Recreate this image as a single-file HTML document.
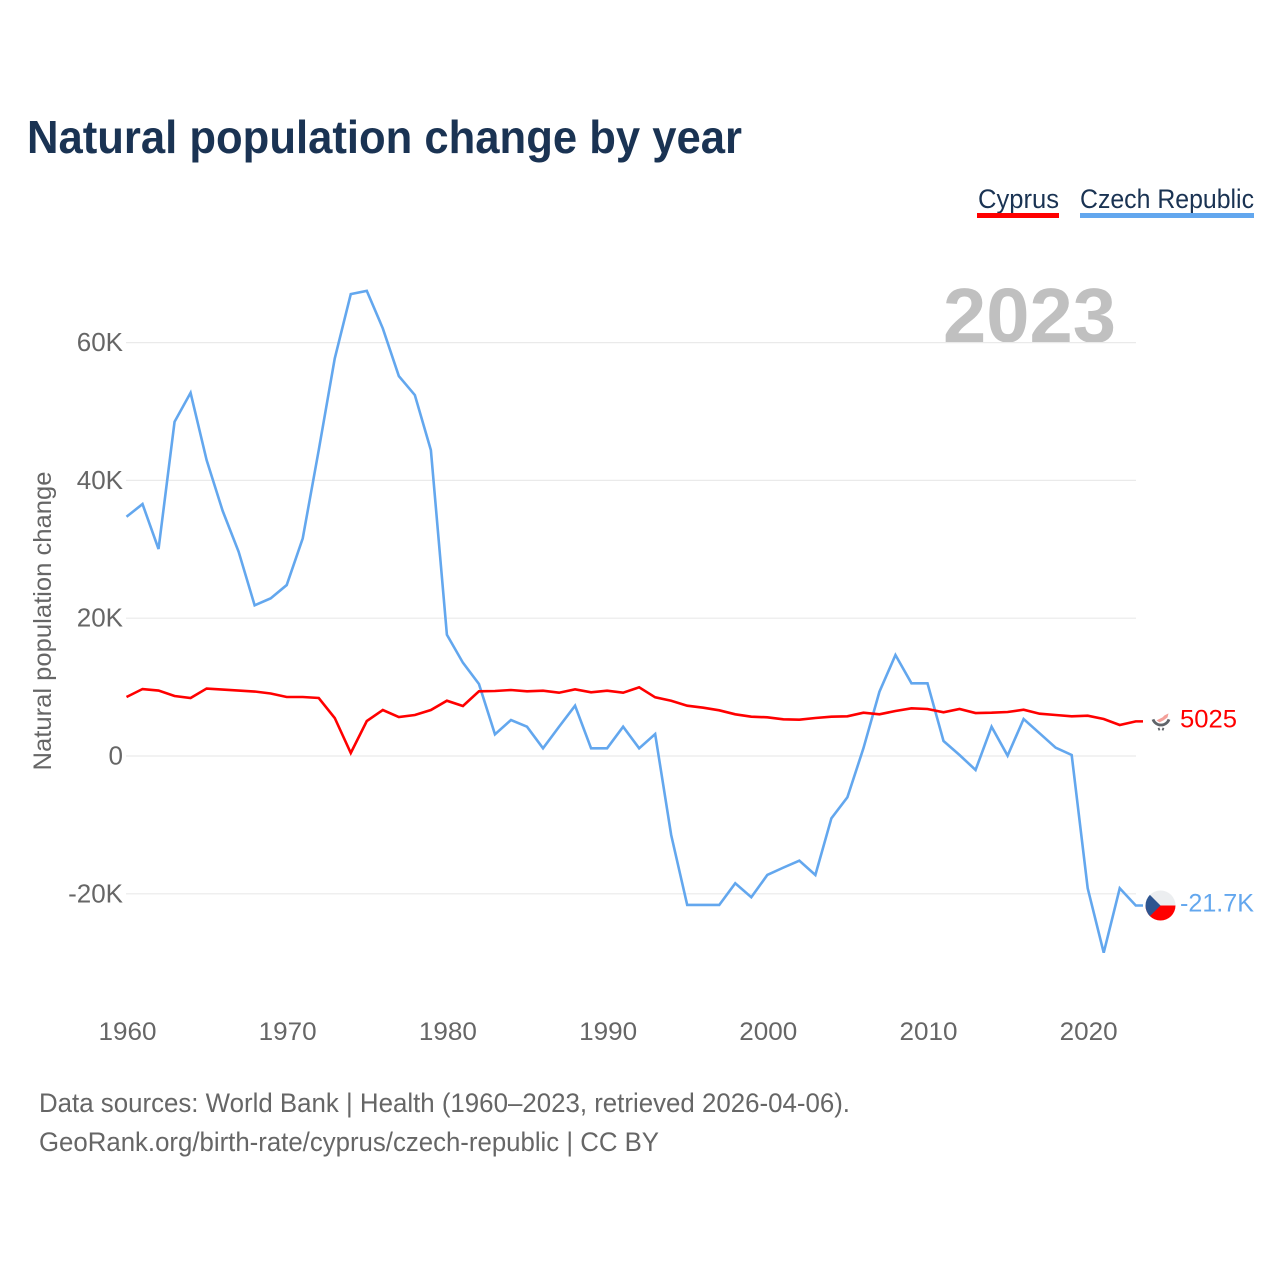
<!DOCTYPE html>
<html lang="en">
<head>
<meta charset="utf-8">
<title>Natural population change by year</title>
<style>
html,body{margin:0;padding:0;background:#fff;width:1280px;height:1280px;overflow:hidden}
svg{display:block}
text{font-family:"Liberation Sans",sans-serif}
</style>
</head>
<body>
<svg id="chart" xmlns="http://www.w3.org/2000/svg" width="1280" height="1280" viewBox="0 0 1280 1280">
  <rect width="1280" height="1280" fill="#fff"/>
  <text x="27" y="153" font-size="46" font-weight="700" fill="#1a3353" textLength="715" lengthAdjust="spacingAndGlyphs">Natural population change by year</text>

  <g>
    <g>
      <text x="978" y="208" font-size="27" fill="#1a3353" textLength="81" lengthAdjust="spacingAndGlyphs">Cyprus</text>
      <rect x="977" y="213" width="82" height="5" fill="#ff0000"/>
    </g>
    <g>
      <text x="1080" y="208" font-size="27" fill="#1a3353" textLength="174" lengthAdjust="spacingAndGlyphs">Czech Republic</text>
      <rect x="1080" y="213" width="174" height="5" fill="#63a7ee"/>
    </g>
  </g>

  <text x="943" y="342" font-size="77" font-weight="700" fill="#c0c0c0" textLength="173" lengthAdjust="spacingAndGlyphs">2023</text>

  <g id="grid"></g>
  <g id="yticks"></g>
  <g id="xticks"></g>
  <text transform="translate(51,621) rotate(-90)" text-anchor="middle" font-size="25" fill="#666" textLength="299" lengthAdjust="spacingAndGlyphs">Natural population change</text>

  <g id="series"></g>
  <g id="endmarks"></g>

  <text x="39" y="1112" font-size="27" fill="#666" textLength="811" lengthAdjust="spacingAndGlyphs">Data sources: World Bank | Health (1960–2023, retrieved 2026-04-06).</text>
  <text x="39" y="1151" font-size="27" fill="#666" textLength="620" lengthAdjust="spacingAndGlyphs">GeoRank.org/birth-rate/cyprus/czech-republic | CC BY</text>
</svg>
<script>
const startYear = 1960;
const cyprusValues = [8560,9722,9504,8706,8416,9794,9649,9504,9359,9069,8561,8561,8416,5514,435,5079,6675,5659,5949,6675,8024,7255,9388,9432,9577,9388,9475,9185,9678,9243,9475,9185,9968,8517,8024,7300,7008,6631,6051,5702,5615,5325,5267,5514,5702,5760,6283,6051,6530,6921,6820,6341,6820,6239,6283,6384,6718,6138,5949,5760,5848,5369,4498,5025];
const czechValues = [34720,36565,30040,48507,52715,42950,35593,29644,21867,22882,24812,31588,44400,57706,67036,67515,62059,55138,52381,44400,17600,13540,10447,3150,5224,4250,1117,4250,7300,1117,1117,4250,1117,3192,-11463,-21620,-21620,-21620,-18470,-20500,-17267,-16200,-15190,-17267,-9040,-5990,1117,9330,14655,10550,10550,2177,145,-2031,4250,50,5369,3294,1204,145,-19200,-28540,-19200,-21700];
const yTickValues = [60000,40000,20000,0,-20000];
const yTickLabels = ["60K","40K","20K","0","-20K"];
const xTickYears = [1960,1970,1980,1990,2000,2010,2020];
const cyprusEndLabel = "5025";
const czechEndLabel = "-21.7K";

const NS = "http://www.w3.org/2000/svg";
const RED = "#ff0000";
const BLUE = "#63a7ee";
function xScale(year){ return 126.5 + (year - 1960) * 16.02; }
function yScale(value){ return 756 - value * 0.00689; }
function make(tag, parent, attrs){
  const el = document.createElementNS(NS, tag);
  for (const k in attrs) el.setAttribute(k, attrs[k]);
  parent.appendChild(el);
  return el;
}

const grid = document.getElementById("grid");
const yticks = document.getElementById("yticks");
yTickValues.forEach(function(v, i){
  const line = make("line", grid, {x1:126, x2:1136, y1:yScale(v), y2:yScale(v), stroke:"#eaeaea", "stroke-width":1.2});
  
  
  const t = make("text", yticks, {x:123, y:yScale(v)+8.5, "text-anchor":"end", "font-size":26, fill:"#666"});
  
  
  t.textContent = yTickLabels[i];
});

const xticks = document.getElementById("xticks");
xTickYears.forEach(function(year){
  const t = make("text", xticks, {x:xScale(year)+1, y:1040, "text-anchor":"middle", "font-size":25, fill:"#666", textLength:58, lengthAdjust:"spacingAndGlyphs"});
  
  
  t.textContent = String(year);
});

function linePoints(values){
  const pts = values.map(function(v, i){ return xScale(startYear + i).toFixed(2) + "," + yScale(v).toFixed(2); });
  pts.push("1143," + yScale(values[values.length - 1]).toFixed(2));
  return pts.join(" ");
}
const series = document.getElementById("series");
const czechLine = make("polyline", series, {points:linePoints(czechValues), fill:"none", stroke:BLUE, "stroke-width":2.6, "stroke-linejoin":"miter"});


const cyprusLine = make("polyline", series, {points:linePoints(cyprusValues), fill:"none", stroke:RED, "stroke-width":2.6, "stroke-linejoin":"miter"});



const marks = document.getElementById("endmarks");
const czY = yScale(czechValues[czechValues.length - 1]);
const cyY = yScale(cyprusValues[cyprusValues.length - 1]);
const cx = 1160.5;

const czFlag = make("g", marks, {transform:"translate(" + cx + "," + czY + ")"});


make("path", czFlag, {d:"M-15,0A15,15 0 0 1 15,0Z", fill:"#eceef0"});
make("path", czFlag, {d:"M-15,0A15,15 0 0 0 15,0Z", fill:RED});
make("path", czFlag, {d:"M-10.6,-10.6L0,0L-10.6,10.6A15,15 0 0 1 -10.6,-10.6Z", fill:"#2e5590"});

const cyFlag = make("g", marks, {transform:"translate(" + cx + "," + cyY + ")"});


make("path", cyFlag, {d:"M-4,-1 L2,-4 L4,-6 L8,-8 L7,-4 L3,-1 L-1,1 Z", fill:"#f4a09a"});
make("path", cyFlag, {d:"M-7.5,-2A8.5,8.5 0 0 0 8.5,-2", fill:"none", stroke:"#60646a", "stroke-width":2.8});
make("path", cyFlag, {d:"M-2,6.5L-1,9M3,6.5L2,9", fill:"none", stroke:"#60646a", "stroke-width":1.8});

const cyLabel = make("text", marks, {x:1180, y:cyY+6, "font-size":25, fill:RED, textLength:57, lengthAdjust:"spacingAndGlyphs"});


cyLabel.textContent = cyprusEndLabel;

const czLabel = make("text", marks, {x:1180, y:czY+6, "font-size":25, fill:BLUE, textLength:74, lengthAdjust:"spacingAndGlyphs"});


czLabel.textContent = czechEndLabel;
</script>
</body>
</html>
